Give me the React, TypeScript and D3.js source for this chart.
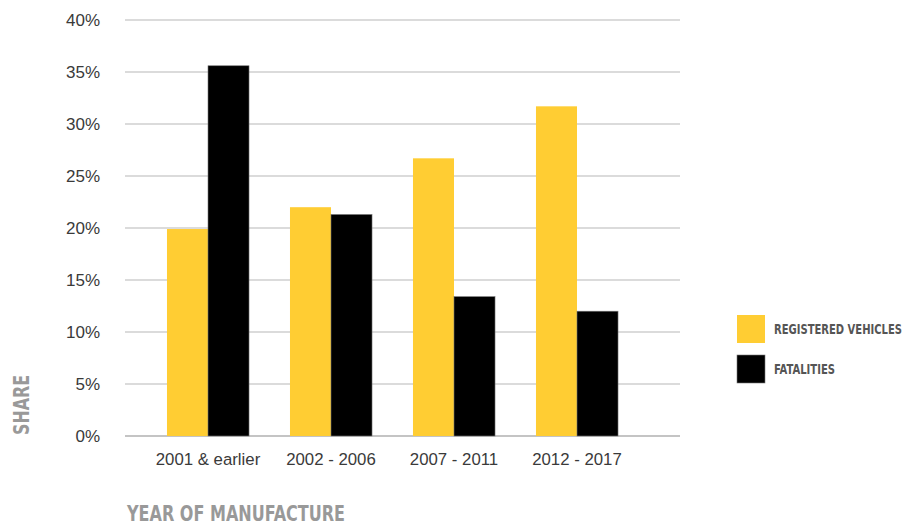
import React from "react";
import * as d3 from "d3";

const categories = ["2001 & earlier", "2002 - 2006", "2007 - 2011", "2012 - 2017"];
const seriesNames = ["REGISTERED VEHICLES", "FATALITIES"];
const registered = [19.9, 22.0, 26.7, 31.7];
const fatalities = [35.6, 21.3, 13.4, 12.0];
const yTicks = [0, 5, 10, 15, 20, 25, 30, 35, 40];
const colors = ["#FFCD33", "#000000"];

const W = 906;
const H = 525;

export default function App() {
  const y = d3.scaleLinear().domain([0, 40]).range([436, 20]);
  const x = d3
    .scaleBand<string>()
    .domain(categories)
    .range([146.5, 638.5])
    .paddingInner(0.333)
    .paddingOuter(0.1665);
  const inner = d3.scaleBand<number>().domain([0, 1]).range([0, x.bandwidth()]);
  const series = [registered, fatalities];
  const condensed = "'Liberation Sans Narrow', 'DejaVu Sans Condensed', 'DejaVu Sans', sans-serif";
  const sans = "'Liberation Sans', Arial, sans-serif";
  const legendLengths = [128, 61];

  return (
    <svg
      width={W}
      height={H}
      style={{ position: "absolute", left: 0, top: 0, background: "#fff" }}
    >
      {yTicks.map((t) => (
        <g key={t}>
          <line
            x1={125}
            x2={680}
            y1={y(t)}
            y2={y(t)}
            stroke={t === 0 ? "#b0b0b0" : "#cfcfcf"}
            strokeWidth={1.5}
          />
          <text
            x={100}
            y={y(t)}
            dy="0.35em"
            textAnchor="end"
            fontFamily={sans}
            fontSize={17}
            fill="#3a3a3a"
          >
            {t}%
          </text>
        </g>
      ))}
      {categories.map((c, i) => (
        <g key={c}>
          {series.map((s, j) => (
            <rect
              key={j}
              x={(x(c) as number) + (inner(j) as number)}
              y={y(s[i])}
              width={inner.bandwidth()}
              height={y(0) - y(s[i])}
              fill={colors[j]}
              stroke={j === 1 ? "#777" : "none"}
              strokeWidth={0.6}
            />
          ))}
          <text
            x={(x(c) as number) + x.bandwidth() / 2}
            y={465}
            textAnchor="middle"
            fontFamily={sans}
            fontSize={16.8}
            fill="#3a3a3a"
          >
            {c}
          </text>
        </g>
      ))}
      <text
        transform="translate(29,405) rotate(-90)"
        textAnchor="middle"
        fontFamily={condensed}
        fontWeight="bold"
        fontSize={21}
        textLength={60}
        lengthAdjust="spacingAndGlyphs"
        fill="#999"
      >
        SHARE
      </text>
      <text
        x={127}
        y={521}
        fontFamily={condensed}
        fontWeight="bold"
        fontSize={20.5}
        textLength={218}
        lengthAdjust="spacingAndGlyphs"
        fill="#999"
      >
        YEAR OF MANUFACTURE
      </text>
      {seriesNames.map((n, j) => (
        <g key={n} transform={`translate(737,${315 + j * 40})`}>
          <rect
            width={28}
            height={28}
            fill={colors[j]}
            stroke={j === 1 ? "#777" : "none"}
            strokeWidth={0.6}
          />
          <text
            x={37}
            y={14}
            dy="0.36em"
            fontFamily={condensed}
            fontWeight="bold"
            fontSize={14}
            textLength={legendLengths[j]}
            lengthAdjust="spacingAndGlyphs"
            fill="#555"
          >
            {n}
          </text>
        </g>
      ))}
    </svg>
  );
}
